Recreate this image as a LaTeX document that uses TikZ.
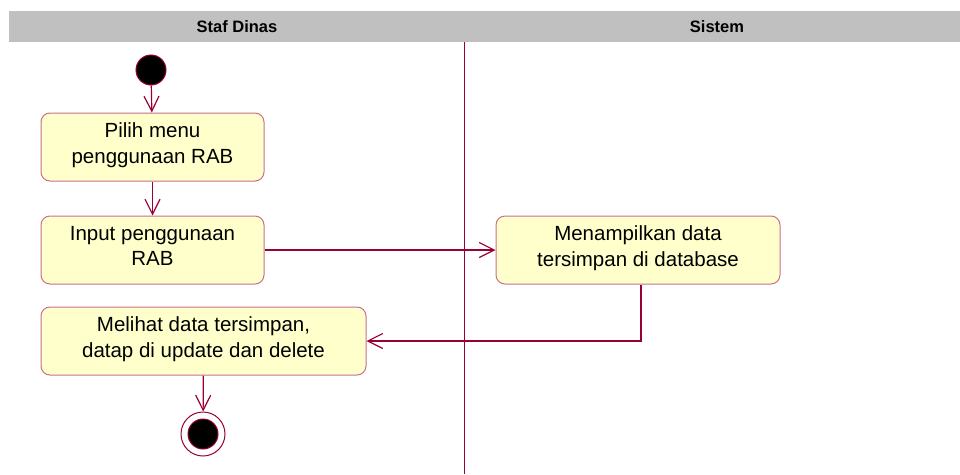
\documentclass[tikz,border=0pt]{standalone}
\usepackage{fontspec}
\setmainfont{Liberation Sans}
\usetikzlibrary{arrows.meta}
\definecolor{lanegray}{HTML}{C0C0C0}
\definecolor{actfill}{HTML}{FFFFCC}
\definecolor{actline}{HTML}{C8708C}
\definecolor{flowred}{HTML}{990033}
\begin{document}
\begin{tikzpicture}[x=1pt, y=-1pt, line width=1pt,
  activity/.style={draw=actline, fill=actfill, rounded corners=9pt, minimum height=68pt,
    align=center, inner sep=0pt, text depth=8pt, font=\fontsize{20.5}{25.5}\selectfont},
  flow/.style={draw=flowred, line width=1.2pt, -{Straight Barb[length=15pt,width=15pt]}},
  lanehead/.style={font=\bfseries\fontsize{16.5}{18}\selectfont}]
  \useasboundingbox (0,0) rectangle (960,474);
  % swimlane headers
  \fill[lanegray] (9,11) rectangle (960,42);
  \node[lanehead] (staf) at (237,27) {Staf Dinas};
  \node[lanehead] (sistem) at (717,27) {Sistem};
  \draw[flowred] (464,42) -- (464,474);
  % activities
  \node[circle, fill=black, draw=flowred, minimum size=30pt, inner sep=0pt] (start) at (151,70) {};
  \node[activity, minimum width=223pt] (pilih) at (152.5,147) {Pilih menu\\penggunaan RAB};
  \node[activity, minimum width=223pt] (input) at (152.5,250) {Input penggunaan\\RAB};
  \node[activity, minimum width=284pt] (tampil) at (638,250) {Menampilkan data\\tersimpan di database};
  \node[activity, minimum width=325pt] (lihat) at (203.5,341) {Melihat data tersimpan,\\datap di update dan delete};
  \node[circle, draw=flowred, minimum size=44pt, inner sep=0pt] (end) at (203,434) {};
  \fill[black, draw=flowred] (end) circle (15pt);
  % flows
  \draw[flow] (start) -- (pilih);
  \draw[flow] (pilih) -- (input);
  \draw[flow] (input) -- (tampil);
  \draw[flow] ([xshift=3pt]tampil.south) |- (lihat.east);
  \draw[flow] (lihat) -- (end);
\end{tikzpicture}
\end{document}
